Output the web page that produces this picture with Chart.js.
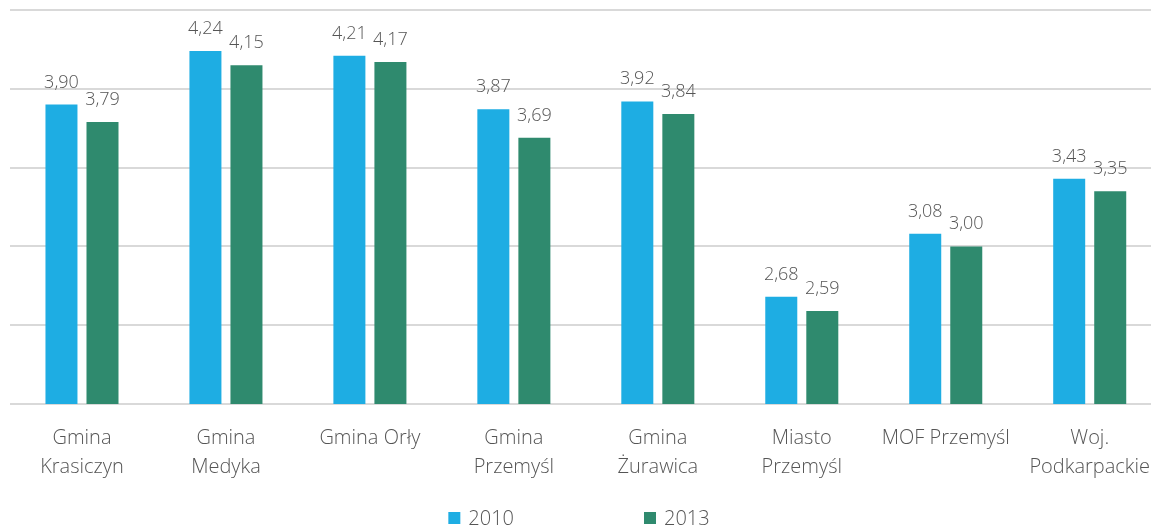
<!DOCTYPE html>
<html>
<head>
<meta charset="utf-8">
<script src="https://cdn.jsdelivr.net/npm/chart.js@4/dist/chart.umd.min.js"></script>
<style>
    html, body { margin: 0; padding: 0; background: #fff; overflow: hidden; }
    #wrap { position: relative; width: 1162px; height: 526px; }
</style>
</head>
<body>
<div id="wrap"><canvas id="incomeChart"></canvas></div>
<script>
// Data
const categories = [
    ['Gmina', 'Krasiczyn'],
    ['Gmina', 'Medyka'],
    'Gmina Orły',
    ['Gmina', 'Przemyśl'],
    ['Gmina', 'Żurawica'],
    ['Miasto', 'Przemyśl'],
    'MOF Przemyśl',
    ['Woj.', 'Podkarpackie']
];
const seriesNames = ['2010', '2013'];
const values2010 = [3.90, 4.24, 4.21, 3.87, 3.92, 2.68, 3.08, 3.43];
const values2013 = [3.79, 4.15, 4.17, 3.69, 3.84, 2.59, 3.00, 3.35];
const seriesColors = ['#1EADE3', '#2F8A6E'];

const FONT = "'Open Sans', 'Noto Sans', sans-serif";
const TEXT_COLOR = '#555555';

// Value labels above bars, Polish decimal comma
const valueLabels = {
    id: 'valueLabels',
    afterDatasetsDraw(chart) {
        const ctx = chart.ctx;
        ctx.save();
        ctx.font = `300 18px ${FONT}`;
        ctx.fillStyle = TEXT_COLOR;
        ctx.textAlign = 'center';
        ctx.textBaseline = 'alphabetic';
        chart.data.datasets.forEach((ds, i) => {
            const meta = chart.getDatasetMeta(i);
            meta.data.forEach((bar, j) => {
                const txt = ds.data[j].toFixed(2).replace('.', ',');
                ctx.fillText(txt, bar.x, bar.y - 17);
            });
        });
        ctx.restore();
    }
};

// Legend drawn at the bottom, wide spacing like the original
const bottomLegend = {
    id: 'bottomLegend',
    afterDraw(chart) {
        const ctx = chart.ctx;
        const box = 12, gapText = 8, gapItem = 130;
        ctx.save();
        ctx.font = `300 20px ${FONT}`;
        const items = chart.data.datasets.map(ds => ({
            text: ds.label,
            color: ds.backgroundColor,
            w: box + gapText + ctx.measureText(ds.label).width
        }));
        const total = items.reduce((s, it) => s + it.w, 0) + gapItem * (items.length - 1);
        let x = 579 - total / 2;
        const baseY = 524;
        items.forEach(it => {
            ctx.fillStyle = it.color;
            ctx.fillRect(x, baseY - 12, box, box);
            ctx.fillStyle = TEXT_COLOR;
            ctx.textAlign = 'left';
            ctx.textBaseline = 'alphabetic';
            ctx.fillText(it.text, x + box + gapText, baseY + 1);
            x += it.w + gapItem;
        });
        ctx.restore();
    }
};

new Chart(document.getElementById('incomeChart'), {
    type: 'bar',
    data: {
        labels: categories,
        datasets: [
            { label: seriesNames[0], data: values2010, backgroundColor: seriesColors[0] },
            { label: seriesNames[1], data: values2013, backgroundColor: seriesColors[1] }
        ]
    },
    options: {
        responsive: true,
        maintainAspectRatio: false,
        animation: false,
        datasets: {
            bar: { categoryPercentage: 0.57, barPercentage: 0.78 }
        },
        layout: { padding: { top: 10, left: 10, right: 0, bottom: 0 } },
        plugins: {
            legend: { display: false },
            tooltip: { enabled: false }
        },
        scales: {
            x: {
                grid: { display: false },
                border: { display: false },
                ticks: {
                    color: TEXT_COLOR,
                    font: { family: FONT, size: 20, weight: 300, lineHeight: 1.45 },
                    padding: 12,
                    maxRotation: 0,
                    autoSkip: false
                },
                afterFit(scale) { scale.height = 122; }
            },
            y: {
                min: 2,
                max: 4.5,
                ticks: { display: false, stepSize: 0.5 },
                border: { display: false },
                grid: { color: '#d9d9d9', lineWidth: 2, drawTicks: false }
            }
        }
    },
    plugins: [valueLabels, bottomLegend]
});
</script>
</body>
</html>
